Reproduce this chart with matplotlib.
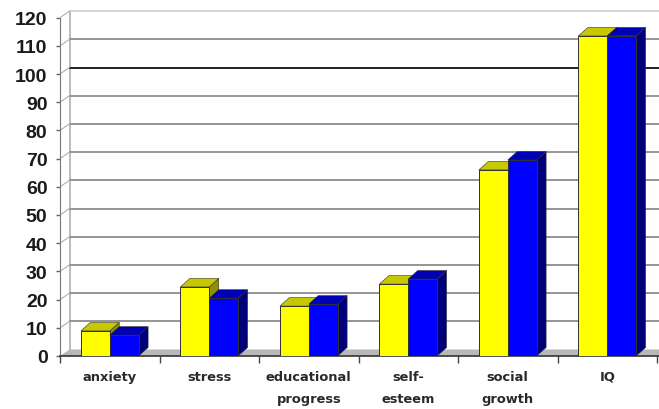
import matplotlib
matplotlib.use("Agg")
import matplotlib.pyplot as plt
from matplotlib.patches import Polygon
import numpy as np

categories = ["anxiety", "stress", "educational\nprogress", "self-\nesteem", "social\ngrowth", "IQ"]
yellow_values = [8.9, 24.5, 17.7, 25.5, 66, 113.5]
blue_values = [7.4, 20.5, 18.4, 27.3, 69.5, 113.5]
y_ticks = list(range(0, 130, 10))

W, H = 659, 410
fig = plt.figure(figsize=(W / 100, H / 100), dpi=100, facecolor="white")
ax = fig.add_axes([60 / W, (H - 357) / H, (W - 60) / W, 357 / H])
PX_X = 99.5
PX_Y = 2.82
ax.set_xlim(0, (W - 60) / PX_X)
ax.set_ylim(0, 357 / PX_Y)
DX = 9.5 / PX_X
DY = 6.5 / PX_Y
BAR_DX = 9.5 / PX_X
BAR_DY = 8.5 / PX_Y
xmax = (W - 60) / PX_X
ymax = 120

for s in ax.spines.values():
    s.set_visible(False)
ax.spines["bottom"].set_visible(True)
ax.spines["bottom"].set_color("#333333")
ax.spines["bottom"].set_linewidth(1.2)
ax.spines["left"].set_visible(True)
ax.spines["left"].set_color("#777777")
ax.spines["left"].set_bounds(0, ymax)

# floor and walls
ax.add_patch(Polygon([(0, 0), (DX, DY), (xmax, DY), (xmax, 0)], closed=True, fc="#b8b8b8", ec="none", zorder=1))
ax.plot([DX, DX], [DY, ymax + DY], color="#b0b0b0", lw=1.2, zorder=2)
for v in y_ticks[1:]:
    if v == 100:
        col, lw = "#202020", 1.4
    elif v == 120:
        col, lw = "#d0d0d0", 1.3
    else:
        col, lw = "#8c8c8c", 1.3
    ax.plot([DX, xmax], [v + DY, v + DY], color=col, lw=lw, zorder=2)
    ax.plot([0, DX], [v, v + DY], color="#b0b0b0", lw=0.8, zorder=2)

def bar3d(x0, w, h, front, top, side, z):
    ax.add_patch(Polygon([(x0 + w, 0), (x0 + w + BAR_DX, BAR_DY), (x0 + w + BAR_DX, h + BAR_DY), (x0 + w, h)],
                         closed=True, fc=side, ec="#303030", lw=0.4, zorder=z))
    ax.add_patch(Polygon([(x0, h), (x0 + BAR_DX, h + BAR_DY), (x0 + w + BAR_DX, h + BAR_DY), (x0 + w, h)],
                         closed=True, fc=top, ec="#303030", lw=0.4, zorder=z))
    ax.add_patch(Polygon([(x0, 0), (x0, h), (x0 + w, h), (x0 + w, 0)],
                         closed=True, fc=front, ec="#303030", lw=0.7, zorder=z + 0.1))

centers = np.arange(len(categories)) + 0.5
bw = 0.29
for c, yv, bv in zip(centers, yellow_values, blue_values):
    bar3d(c - bw, bw, yv, "#ffff00", "#c8c800", "#8f8f00", 3)
    bar3d(c, bw, bv, "#0000ff", "#0000b4", "#000078", 4)

ax.set_xticks(np.arange(0, 6.01))
ax.set_xticklabels([])
ax.tick_params(axis="x", length=5, width=1, color="#444444")
ax.set_yticks(y_ticks)
ax.set_yticklabels([str(v) for v in y_ticks], fontfamily="Liberation Sans", fontweight="bold",
                   fontsize=14, color="#1a1a1a")
ax.tick_params(axis="y", length=3, width=1, color="#666666", pad=6)

for c, label in zip(centers, categories):
    ax.annotate(label, (c, 0), xytext=(0, -10), textcoords="offset points", ha="center", va="top",
                fontfamily="DejaVu Sans", fontweight="bold", fontsize=9.4, color="#2a2a2a",
                linespacing=1.95, annotation_clip=False)

fig.savefig("out.png", dpi=100)
